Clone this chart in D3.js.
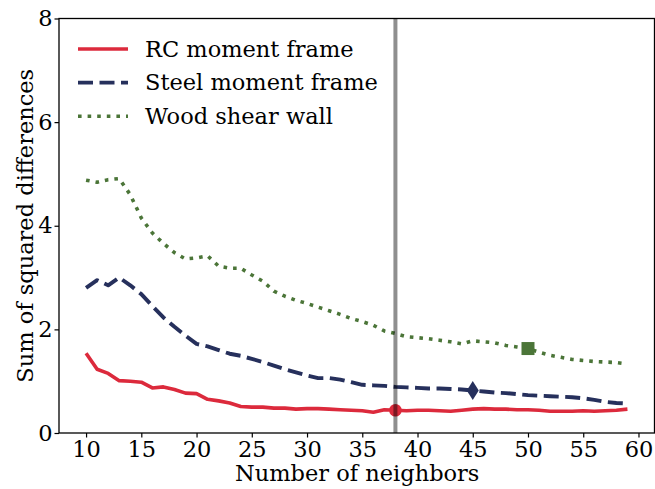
<!DOCTYPE html>
<html>
<head>
<meta charset="utf-8">
<script src="https://cdn.jsdelivr.net/npm/d3@7/dist/d3.min.js"></script>
<style>
  html, body { margin: 0; padding: 0; background: #fff; }
  svg { display: block; }
  text { font-family: "DejaVu Serif", serif; fill: #000; }
</style>
</head>
<body>
<svg id="chart" width="655" height="489"></svg>
<script>
// Number of neighbors (k) evaluated
const neighbors = d3.range(10, 60);

// Sum of squared differences for each structural system
const rcMomentFrame = [1.54, 1.23, 1.15, 1.01, 1.00, 0.98, 0.87, 0.89, 0.84, 0.77,
                       0.76, 0.65, 0.62, 0.58, 0.51, 0.50, 0.50, 0.48, 0.48, 0.46,
                       0.47, 0.47, 0.46, 0.45, 0.44, 0.43, 0.40, 0.45, 0.44, 0.43,
                       0.44, 0.44, 0.43, 0.42, 0.44, 0.46, 0.47, 0.46, 0.46, 0.45,
                       0.45, 0.44, 0.42, 0.42, 0.42, 0.43, 0.42, 0.43, 0.44, 0.46];
const steelMomentFrame = [2.80, 2.95, 2.85, 3.00, 2.85, 2.68, 2.45, 2.23, 2.05, 1.88,
                          1.72, 1.67, 1.60, 1.53, 1.49, 1.43, 1.37, 1.30, 1.23, 1.17,
                          1.11, 1.06, 1.06, 1.03, 0.98, 0.93, 0.92, 0.91, 0.89, 0.88,
                          0.87, 0.86, 0.86, 0.85, 0.84, 0.82, 0.80, 0.78, 0.77, 0.75,
                          0.73, 0.72, 0.71, 0.70, 0.69, 0.67, 0.64, 0.60, 0.58, 0.57];
const woodShearWall = [4.88, 4.84, 4.89, 4.91, 4.60, 4.15, 3.86, 3.66, 3.48, 3.36,
                       3.38, 3.42, 3.22, 3.18, 3.18, 3.05, 2.93, 2.74, 2.64, 2.56,
                       2.50, 2.43, 2.36, 2.29, 2.21, 2.15, 2.08, 1.97, 1.92, 1.86,
                       1.84, 1.82, 1.79, 1.76, 1.72, 1.78, 1.76, 1.74, 1.69, 1.66,
                       1.63, 1.56, 1.50, 1.46, 1.42, 1.40, 1.38, 1.37, 1.36, 1.33];

const seriesNames = ["RC moment frame", "Steel moment frame", "Wood shear wall"];
const seriesColors = ["#dc2a3c", "#26305c", "#4b7538"];

// Chosen k and the highlighted point on each curve
const chosenK = 38;
const highlightK = [38, 45, 50];

const xTicks = [10, 15, 20, 25, 30, 35, 40, 45, 50, 55, 60];
const yTicks = [0, 2, 4, 6, 8];

const fontSize = 22.5;

const svg = d3.select("#chart");
const plotLeft = 59, plotRight = 654.5, plotTop = 18.5, plotBottom = 433;

const x = d3.scaleLinear().domain([7.55, 61.45]).range([plotLeft, plotRight]);
const y = d3.scaleLinear().domain([0, 8]).range([plotBottom, plotTop]);

const seriesData = [rcMomentFrame, steelMomentFrame, woodShearWall];
const dashes = [null, "15,6.5", "3.6,6"];
const widths = [3.6, 3.9, 3.6];

const line = d3.line()
  .x((d, i) => x(neighbors[i]))
  .y(d => y(d));

const plot = svg.append("g");

seriesData.forEach((vals, s) => {
  plot.append("path")
    .datum(vals)
    .attr("d", line)
    .attr("fill", "none")
    .attr("stroke", seriesColors[s])
    .attr("stroke-width", widths[s])
    .attr("stroke-linejoin", "round")
    .attr("stroke-linecap", "butt")
    .attr("stroke-dasharray", dashes[s]);
});

// Highlight markers: circle, thin diamond, square
const markerShapes = [
  d3.symbol().type(d3.symbolCircle).size(Math.PI * 6.3 * 6.3),
  null,
  d3.symbol().type(d3.symbolSquare).size(13 * 13)
];
highlightK.forEach((k, s) => {
  const idx = neighbors.indexOf(k);
  const cx = x(k), cy = y(seriesData[s][idx]);
  if (s === 1) {
    plot.append("path")
      .attr("d", `M${cx},${cy - 9.5}L${cx + 6},${cy}L${cx},${cy + 9.5}L${cx - 6},${cy}Z`)
      .attr("fill", seriesColors[s]);
  } else {
    plot.append("path")
      .attr("d", markerShapes[s]())
      .attr("transform", `translate(${cx},${cy})`)
      .attr("fill", seriesColors[s]);
  }
});

// Vertical reference line at the chosen k
plot.append("line")
  .attr("x1", x(chosenK)).attr("x2", x(chosenK))
  .attr("y1", plotTop).attr("y2", plotBottom)
  .attr("stroke", "#000")
  .attr("stroke-opacity", 0.44)
  .attr("stroke-width", 4);

// Axes
const xAxis = d3.axisBottom(x).tickValues(xTicks).tickSize(4.5).tickPadding(3.5).tickFormat(d3.format("d"));
const yAxis = d3.axisLeft(y).tickValues(yTicks).tickSize(4.5).tickPadding(2).tickFormat(d3.format("d"));

const gx = svg.append("g").attr("transform", `translate(0,${plotBottom})`).call(xAxis);
const gy = svg.append("g").attr("transform", `translate(${plotLeft},0)`).call(yAxis);
[gx, gy].forEach(g => {
  g.select(".domain").remove();
  g.selectAll(".tick line").attr("stroke", "#000").attr("stroke-width", 1.2);
  g.selectAll(".tick text").attr("font-size", fontSize).attr("font-family", "DejaVu Serif").attr("fill", "#000");
});

// Frame
svg.append("rect")
  .attr("x", plotLeft).attr("y", plotTop)
  .attr("width", plotRight - plotLeft).attr("height", plotBottom - plotTop)
  .attr("fill", "none").attr("stroke", "#000").attr("stroke-width", 1.3);

// Axis titles
svg.append("text")
  .attr("x", (plotLeft + plotRight) / 2 + 0.5).attr("y", 480.5)
  .attr("text-anchor", "middle").attr("font-size", fontSize)
  .text("Number of neighbors");
svg.append("text")
  .attr("transform", `translate(33,${(plotTop + plotBottom) / 2}) rotate(-90)`)
  .attr("text-anchor", "middle").attr("font-size", fontSize)
  .text("Sum of squared differences");

// Legend
const legend = svg.append("g");
seriesNames.forEach((name, s) => {
  const ly = 49 + s * 33.6;
  legend.append("line")
    .attr("x1", 78).attr("x2", 128).attr("y1", ly).attr("y2", ly)
    .attr("stroke", seriesColors[s]).attr("stroke-width", widths[s])
    .attr("stroke-dasharray", dashes[s]);
  legend.append("text")
    .attr("x", 145).attr("y", ly).attr("dy", "0.35em")
    .attr("font-size", fontSize)
    .text(name);
});
</script>
</body>
</html>
